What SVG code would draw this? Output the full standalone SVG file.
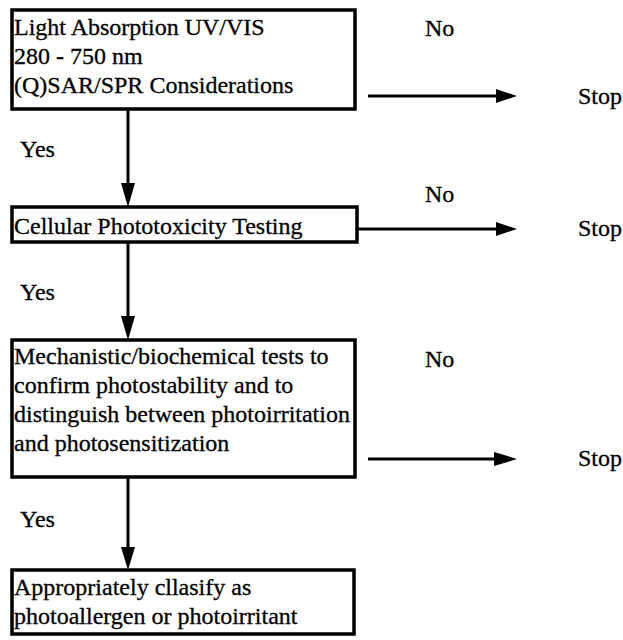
<svg xmlns="http://www.w3.org/2000/svg" width="623" height="640" viewBox="0 0 623 640">
<defs>
<style>
text{font-family:"Liberation Serif","Times New Roman",serif;font-size:24px;fill:#000;stroke:#000;stroke-width:0.3}
.box{fill:#fff;stroke:#000;stroke-width:3.5}
.ln{stroke:#000;stroke-width:3;fill:none}
.hd{fill:#000}
</style>
</defs>
<rect width="623" height="640" fill="#fff"/>
<g id="connectors">
<line class="ln" x1="128" y1="109" x2="128" y2="190"/>
<polygon class="hd" points="121,183 135,183 128,207"/>
<line class="ln" x1="128" y1="242" x2="128" y2="320"/>
<polygon class="hd" points="121,316 135,316 128,340"/>
<line class="ln" x1="128" y1="477" x2="128" y2="555"/>
<polygon class="hd" points="121,547 135,547 128,570"/>
<line class="ln" x1="368" y1="96" x2="500" y2="96"/>
<polygon class="hd" points="496,89 517,96 496,103"/>
<line class="ln" x1="358" y1="229" x2="500" y2="229"/>
<polygon class="hd" points="496,222 517,229 496,236"/>
<line class="ln" x1="368" y1="459" x2="500" y2="459"/>
<polygon class="hd" points="494,452 517,459 494,466"/>
</g>
<g id="n1">
<rect class="box" x="12" y="10" width="343" height="99"/>
<text x="14" y="35">Light Absorption UV/VIS</text>
<text x="14" y="64">280 - 750 nm</text>
<text x="14" y="93">(Q)SAR/SPR Considerations</text>
</g>
<g id="n2">
<rect class="box" x="12" y="207" width="345" height="35"/>
<text x="14" y="234">Cellular Phototoxicity Testing</text>
</g>
<g id="n3">
<rect class="box" x="12" y="340" width="343" height="137"/>
<text x="14" y="364">Mechanistic/biochemical tests to</text>
<text x="14" y="393">confirm photostability and to</text>
<text x="14" y="422">distinguish between photoirritation</text>
<text x="14" y="451">and photosensitization</text>
</g>
<g id="n4">
<rect class="box" x="12" y="570" width="342" height="64"/>
<text x="14" y="595">Appropriately cllasify as</text>
<text x="14" y="624">photoallergen or photoirritant</text>
</g>
<g id="labels">
<text x="20" y="157">Yes</text>
<text x="20" y="300">Yes</text>
<text x="20" y="527">Yes</text>
<text x="425" y="36">No</text>
<text x="425" y="202">No</text>
<text x="425" y="367">No</text>
<text x="578" y="104">Stop</text>
<text x="578" y="236">Stop</text>
<text x="578" y="466">Stop</text>
</g>
</svg>
